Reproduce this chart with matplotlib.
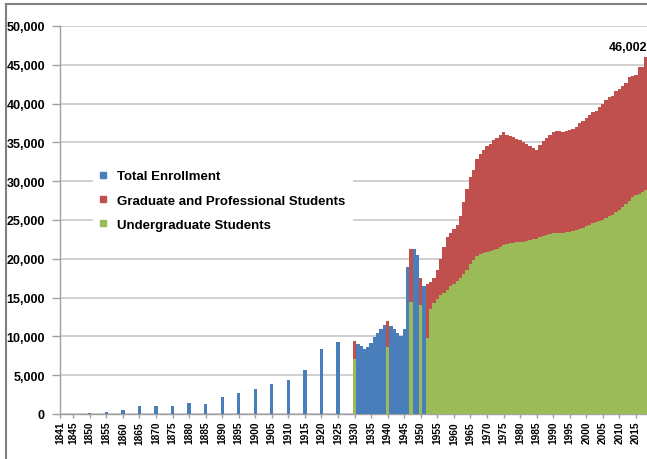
import matplotlib
matplotlib.use("Agg")
import matplotlib.pyplot as plt
from matplotlib.lines import Line2D
from matplotlib.ticker import FuncFormatter

# ---- data -------------------------------------------------------------
# Total enrollment, years without an undergraduate / graduate split
total_years = [1845, 1850, 1855, 1860, 1865, 1870, 1875, 1880, 1885, 1890,
               1895, 1900, 1905, 1910, 1915, 1920, 1925,
               1931, 1932, 1933, 1934, 1935, 1936, 1937, 1938, 1939,
               1941, 1942, 1943, 1944, 1945, 1946, 1948, 1949, 1951]
total_values = [60, 80, 300, 550, 1070, 990, 1000, 1380, 1290, 2230,
                2670, 3220, 3830, 4420, 5670, 8380, 9280,
                9000, 8700, 8400, 8600, 9200, 9900, 10500, 11000, 11500,
                11400, 11000, 10500, 10100, 11000, 19000, 21300, 20500, 16500]

# Years with a split between undergraduate and graduate/professional
split_years = [1930, 1940, 1947, 1950, 1952] + list(range(1953, 2019))
undergrad = [7100, 8600, 14400, 14000, 9800,
             13500, 14300, 14800, 15300, 15600, 16000, 16500, 16800, 17100, 17500,
             18000, 18600, 19300, 19800, 20300, 20600, 20800, 20900, 21000, 21100,
             21200, 21500, 21800, 21900, 22000, 22100, 22200, 22200, 22200, 22300,
             22400, 22500, 22600, 22800, 23000, 23100, 23200, 23300, 23300, 23300,
             23300, 23400, 23500, 23600, 23700, 23800, 24000, 24200, 24400, 24600,
             24800, 24900, 25000, 25200, 25500, 25700, 26000, 26300, 26700, 27100,
             27500, 27900, 28200, 28400, 28600, 28900]
graduate = [2350, 3400, 6800, 3500, 7000,
            3500, 3200, 3700, 4700, 5900, 6800, 6800, 7000, 7200, 8000,
            9300, 10400, 11200, 11700, 12500, 12900, 13200, 13600, 13800, 14200,
            14400, 14500, 14500, 14100, 13800, 13600, 13300, 13100, 12800, 12500,
            12200, 11800, 11400, 11900, 12200, 12500, 12800, 13000, 13200, 13200,
            13100, 13100, 13100, 13100, 13300, 13700, 13800, 13900, 14100, 14300,
            14200, 14600, 14900, 15200, 15300, 15300, 15600, 15600, 15600, 15600,
            15900, 15700, 15500, 16300, 16100, 17102]

tick_years = [1841] + list(range(1845, 2016, 5))

# ---- style --------------------------------------------------------------
BLUE = "#4a7ebb"
RED = "#c0504d"
GREEN = "#9bbb59"
GRID = "#c8c8c8"
FONT = "Liberation Sans"

plt.rcParams["font.family"] = [FONT, "DejaVu Sans"]

W, H = 647, 460
fig = plt.figure(figsize=(W / 100, H / 100), dpi=100)
fig.patch.set_facecolor("white")

# plot area in pixel terms: x 60..650, y 27..415 (from top)
left, right, top, bottom = 60, 650, 27, 415
ax = fig.add_axes([left / W, 1 - bottom / H, (right - left) / W, (bottom - top) / H])

bar_w = 1.0
ax.bar(total_years, total_values, width=bar_w, color=BLUE, linewidth=0, zorder=3)
ax.bar(split_years, undergrad, width=bar_w, color=GREEN, linewidth=0, zorder=3)
ax.bar(split_years, graduate, width=bar_w, bottom=undergrad, color=RED,
       linewidth=0, zorder=3)

ax.set_xlim(1841, 1841 + (right - left) / 3.31)
ax.set_ylim(0, 50000)

ax.set_yticks(range(0, 50001, 5000))
ax.yaxis.set_major_formatter(FuncFormatter(lambda v, p: f"{int(v):,}"))
ax.grid(axis="y", color=GRID, linewidth=1.2, zorder=0)
ax.set_axisbelow(True)

ax.set_xticks(tick_years)
ax.set_xticklabels([str(y) for y in tick_years], rotation=90)

for lab in ax.get_yticklabels():
    lab.set_fontsize(9)
    lab.set_fontweight("bold")
for lab in ax.get_xticklabels():
    lab.set_fontsize(7.3)
    lab.set_fontweight("bold")

ax.tick_params(axis="y", length=5.8, width=1, color="#a0a0a0", pad=5)
ax.tick_params(axis="x", length=3, width=1, color="#a0a0a0", pad=2)

for side in ["top", "right"]:
    ax.spines[side].set_visible(False)
for side in ["left", "bottom"]:
    ax.spines[side].set_color("#a0a0a0")
    ax.spines[side].set_linewidth(1)

# value label for the final year
last_total = undergrad[-1] + graduate[-1]
ax.annotate(f"{last_total:,}", xy=(split_years[-1], last_total),
            xytext=(1, 3), textcoords="offset points",
            ha="right", va="bottom", fontsize=9, fontweight="bold")

# legend
handles = [Line2D([], [], marker="s", linestyle="none", markersize=4.5,
                  markerfacecolor=c, markeredgecolor=c)
           for c in (BLUE, RED, GREEN)]
labels = ["Total Enrollment", "Graduate and Professional Students",
          "Undergraduate Students"]
leg = ax.legend(handles, labels, loc="upper left",
                bbox_to_anchor=((86 - left) / (right - left), (bottom - 158) / (bottom - top)),
                frameon=True, fancybox=False, framealpha=1, edgecolor="white",
                facecolor="white", handlelength=0.6, handletextpad=0.75,
                labelspacing=0.9, borderpad=0.5,
                prop={"family": FONT, "weight": "bold", "size": 9.5})
leg.set_zorder(5)

# outer chart frame (top and left edges)
fig.add_artist(Line2D([6 / W, 6 / W], [0, 1 - 5 / H], color="#808080",
                      linewidth=1.5, transform=fig.transFigure))
fig.add_artist(Line2D([6 / W, 1], [1 - 5 / H, 1 - 5 / H], color="#808080",
                      linewidth=1.5, transform=fig.transFigure))

fig.savefig("out.png", dpi=100)
